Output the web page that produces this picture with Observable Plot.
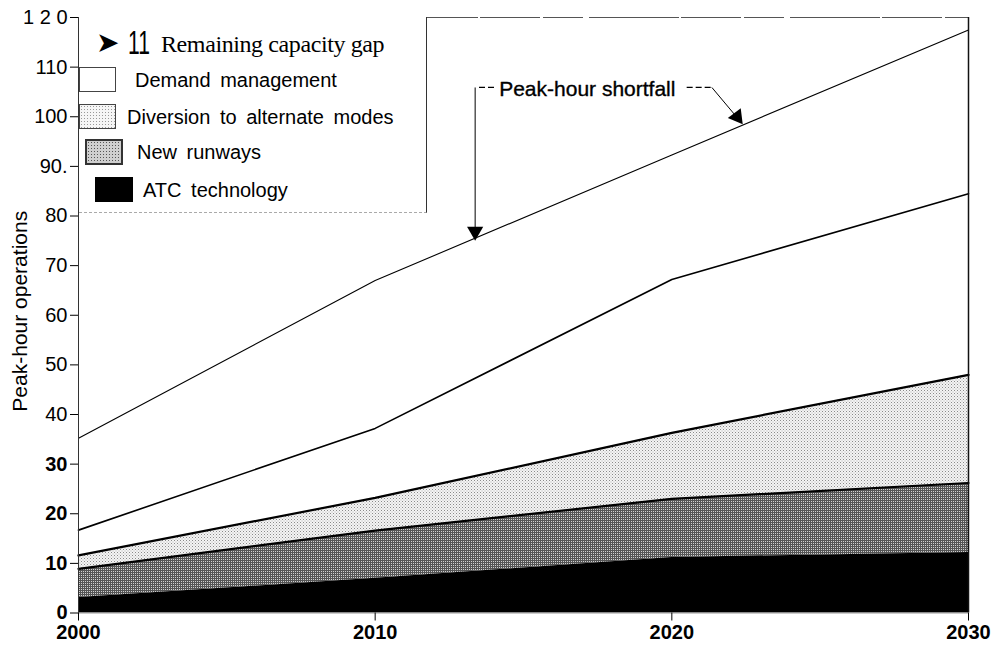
<!DOCTYPE html>
<html>
<head>
<meta charset="utf-8">
<script src="https://cdn.jsdelivr.net/npm/d3@7"></script>
<script src="https://cdn.jsdelivr.net/npm/@observablehq/plot@0.6"></script>
<style>
  body { margin: 0; background: #fff; }
  #wrap { position: relative; width: 992px; height: 650px; overflow: hidden; }
  #legend { position: absolute; left: 79px; top: 17px; width: 348px; height: 196px; background: #fff;
            border-right: 1px solid #333; border-bottom: 1px dashed #aaa; box-sizing: border-box;
            font-family: "Liberation Sans", Arial, sans-serif; color: #000; }
  .it { position: absolute; white-space: nowrap; }
  .sw { position: absolute; box-sizing: border-box; }
</style>
</head>
<body>
<div id="wrap"><div id="chart"></div><div id="legend"></div></div>
<script>
// ---- data (cumulative boundaries, peak-hour operations) ----
const years        = [2000, 2010, 2020, 2030];
const atcTop       = [3.1, 7.0, 11.2, 12.2];     // ATC technology
const runwaysTop   = [8.9, 16.6, 23.0, 26.2];    // + New runways
const diversionTop = [11.6, 23.2, 36.3, 48.0];   // + Diversion to alternate modes
const demandTop    = [16.7, 37.2, 67.2, 84.5];   // + Demand management
const shortfall    = [35.2, 67.0, 92.3, 117.5];  // Peak-hour shortfall

const xTicks = [2000, 2010, 2020, 2030];
const yTicksBold = [0, 10, 20, 30];
const yTicksReg  = [40, 50, 60, 70, 80, 90, 100, 110, 120];
const yTickText  = {120: "1 2 0", 90: "90."};

const legendItems = [
  {key: "demand",    label: "Demand management"},
  {key: "diversion", label: "Diversion to alternate modes"},
  {key: "runways",   label: "New runways"},
  {key: "atc",       label: "ATC technology"}
];

const data = years.map((year, i) => ({
  year, atc: atcTop[i], runways: runwaysTop[i], diversion: diversionTop[i],
  demand: demandTop[i], shortfall: shortfall[i]
}));

// annotation (data coordinates)
const annText = [{x: 2014.18, y: 105.6, label: "Peak-hour shortfall"}];
const annDash = [
  {x1: 2013.5, x2: 2014.05, y1: 105.9, y2: 105.9},
  {x1: 2020.5, x2: 2021.35, y1: 105.9, y2: 105.9}
];
const annShaft = [
  {x1: 2013.37, y1: 105.9, x2: 2013.37, y2: 77.2},
  {x1: 2021.35, y1: 105.9, x2: 2022.15, y2: 100.2}
];
const annHeads = [
  {x: 2013.37, y: 76.9, rot: 180},
  {x: 2022.2, y: 100.0, rot: 143}
];

const font = "'Liberation Sans', Arial, sans-serif";

const plot = Plot.plot({
  width: 992, height: 650,
  marginLeft: 78, marginRight: 24, marginTop: 17, marginBottom: 37.5,
  x: {domain: [2000, 2030]},
  y: {domain: [0, 120]},
  style: {fontFamily: font, background: "#fff", color: "#000"},
  marks: [
    Plot.areaY(data, {x: "year", y1: "diversion", y2: "demand", fill: "#fff"}),
    Plot.areaY(data, {x: "year", y1: "runways", y2: "diversion", fill: "url(#pd)"}),
    Plot.areaY(data, {x: "year", y1: "atc", y2: "runways", fill: "url(#pr)"}),
    Plot.areaY(data, {x: "year", y1: 0, y2: "atc", fill: "#000"}),
    Plot.lineY(data, {x: "year", y: "shortfall", stroke: "#000", strokeWidth: 1.1}),
    Plot.lineY(data, {x: "year", y: "demand", stroke: "#000", strokeWidth: 1.6}),
    Plot.lineY(data, {x: "year", y: "diversion", stroke: "#000", strokeWidth: 2.2}),
    Plot.lineY(data, {x: "year", y: "runways", stroke: "#000", strokeWidth: 2.2}),
    Plot.ruleY([120], {stroke: "#555", strokeWidth: 1, strokeDasharray: "60 3 40 6 90 2"}),
    Plot.ruleY([0], {stroke: "#999", strokeWidth: 1}),
    Plot.ruleX([2000], {stroke: "#333", strokeWidth: 1}),
    Plot.ruleX([2030], {stroke: "#111", strokeWidth: 1.5}),
    Plot.axisY(yTicksBold, {tickSize: 8, tickPadding: 3, fontSize: 20, fontWeight: "bold",
      tickFormat: d => yTickText[d] ?? String(d), label: null}),
    Plot.axisY(yTicksReg, {tickSize: 8, tickPadding: 3, fontSize: 20,
      tickFormat: d => yTickText[d] ?? String(d), label: null}),
    Plot.axisX(xTicks, {tickSize: 8, tickPadding: 4, fontSize: 20, fontWeight: "bold",
      tickFormat: d => String(d), label: null}),
    Plot.text(["Peak-hour operations"], {frameAnchor: "left", textAnchor: "middle", rotate: -90,
      dx: -58, dy: -4, fontSize: 21, fill: "#000"}),
    Plot.text(annText, {x: "x", y: "y", text: "label", textAnchor: "start", fontSize: 21,
      fill: "#000", stroke: "#000", strokeWidth: 0.35}),
    Plot.link(annDash, {x1: "x1", y1: "y1", x2: "x2", y2: "y2", stroke: "#000", strokeWidth: 1.2, strokeDasharray: "6 3"}),
    Plot.link(annShaft, {x1: "x1", y1: "y1", x2: "x2", y2: "y2", stroke: "#000", strokeWidth: 1}),
    Plot.dot(annHeads, {x: "x", y: "y", symbol: "triangle", r: 6, rotate: "rot", fill: "#000", stroke: "none"})
  ]
});

// halftone patterns for the scanned grey fills
const defs = d3.select(plot).insert("defs", ":first-child");
const pd = defs.append("pattern").attr("id", "pd").attr("width", 3).attr("height", 3).attr("patternUnits", "userSpaceOnUse");
pd.append("rect").attr("width", 3).attr("height", 3).attr("fill", "#f4f4f4");
pd.append("rect").attr("x", 0).attr("y", 0).attr("width", 1).attr("height", 1).attr("fill", "#8a8a8a");
pd.append("rect").attr("x", 1.5).attr("y", 1.5).attr("width", 1).attr("height", 1).attr("fill", "#b0b0b0");
const pr = defs.append("pattern").attr("id", "pr").attr("width", 2).attr("height", 2).attr("patternUnits", "userSpaceOnUse");
pr.append("rect").attr("width", 2).attr("height", 2).attr("fill", "#555");
pr.append("rect").attr("x", 1).attr("y", 1).attr("width", 1).attr("height", 1).attr("fill", "#d0d0d0");

document.getElementById("chart").appendChild(plot);

// ---- legend (overlaid in the upper-left of the plot, as in the original) ----
const lg = document.getElementById("legend");
const L = 79, T = 17;
function add(html, left, centerY, style, lh = 30) {
  const d = document.createElement("div");
  d.className = "it";
  d.style.left = (left - L) + "px";
  d.style.top = (centerY - T - lh / 2) + "px";
  d.style.lineHeight = lh + "px";
  d.style.cssText += style;
  d.innerHTML = html;
  lg.appendChild(d);
}
add("➤", 96, 43, "font-family:'DejaVu Sans';font-size:28px;");
add("<span style='display:inline-block;transform:scaleX(0.62);transform-origin:left center'>11</span>", 128, 42,
    "font-family:'Liberation Sans';font-size:34px;", 38);
add("Remaining capacity gap", 161, 44, "font-family:'Liberation Serif';font-size:24px;letter-spacing:-0.4px;");

const swatchStyles = {
  demand: "background:#fff;border:1px solid #444;",
  diversion: "background-color:#f6f6f6;background-image:radial-gradient(#999 0.7px, transparent 1px);background-size:3px 3px;border:1px solid #444;",
  runways: "background-color:#cfcfcf;background-image:radial-gradient(#555 0.6px, transparent 0.9px);background-size:3px 3px;border:2px solid #333;",
  atc: "background:#000;"
};
const rows = {
  demand:    {sx: 79, sy: 67,  w: 37, h: 25, tx: 135, cy: 80},
  diversion: {sx: 79, sy: 104, w: 37, h: 25, tx: 127, cy: 117},
  runways:   {sx: 85, sy: 139, w: 38, h: 26, tx: 137, cy: 152},
  atc:       {sx: 95, sy: 177, w: 38, h: 25, tx: 143, cy: 190}
};
legendItems.forEach(item => {
  const r = rows[item.key];
  const s = document.createElement("div");
  s.className = "sw";
  s.style.cssText = `left:${r.sx - L}px;top:${r.sy - T}px;width:${r.w}px;height:${r.h}px;` + swatchStyles[item.key];
  lg.appendChild(s);
  add(item.label, r.tx, r.cy, "font-size:20px;word-spacing:4px;");
});
</script>
</body>
</html>
